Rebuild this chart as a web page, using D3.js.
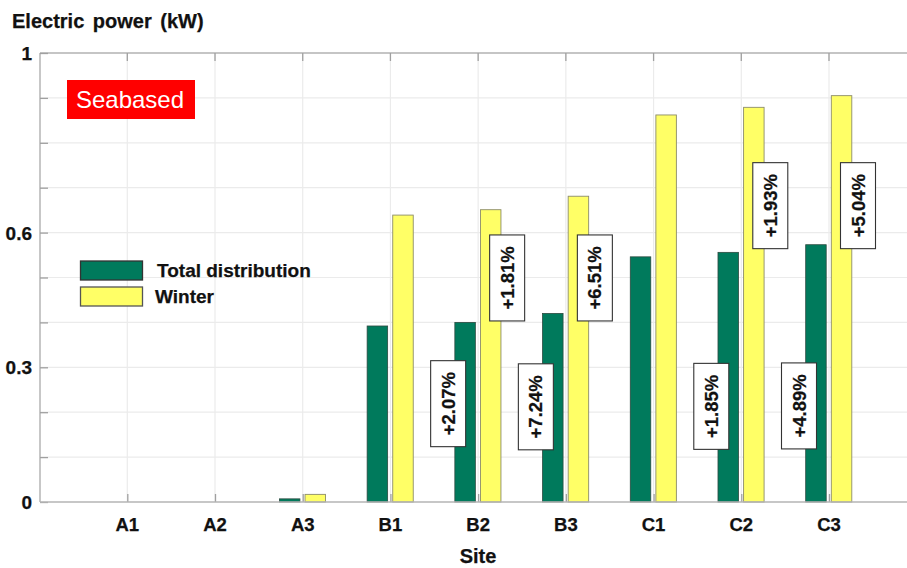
<!DOCTYPE html>
<html>
<head>
<meta charset="utf-8">
<script src="https://cdn.jsdelivr.net/npm/d3@7"></script>
<style>
  html, body { margin: 0; padding: 0; background: #fff; }
  svg { display: block; font-family: "Liberation Sans", Arial, sans-serif; }
  .bold { font-weight: bold; fill: #111; stroke: #111; stroke-width: 0.25px; }
</style>
</head>
<body>
<svg id="chart" width="907" height="568"></svg>
<script>
// ---- data ----
const categories = ["A1", "A2", "A3", "B1", "B2", "B3", "C1", "C2", "C3"];
const totalDistribution = [0, 0, 0.007, 0.392, 0.400, 0.420, 0.546, 0.556, 0.573];
const winter = [0, 0, 0.017, 0.639, 0.651, 0.681, 0.862, 0.879, 0.905];
const yTickLabels = [0, 0.3, 0.6, 1];
const yGridValues = [0, 0.1, 0.2, 0.3, 0.4, 0.5, 0.6, 0.7, 0.8, 0.9, 1];
const seriesNames = ["Total distribution", "Winter"];
const annoCategories = ["B2", "B3", "C2", "C3", "B2", "B3", "C2", "C3"];
const annoSeries = ["total", "total", "total", "total", "winter", "winter", "winter", "winter"];
const annoValues = [0.219, 0.212, 0.213, 0.214, 0.499, 0.499, 0.660, 0.660];
const annoTexts = ["+2.07%", "+7.24%", "+1.85%", "+4.89%", "+1.81%", "+6.51%", "+1.93%", "+5.04%"];

(function () {
// ---- style ----
const GREEN = "#007a5c", YELLOW = "#ffff66";
const svg = d3.select("#chart");
const pLeft = 40, pTop = 53, pBottom = 502, pRight = 907;

const x = d3.scalePoint().domain(categories).range([127.3, 829]);
const y = d3.scaleLinear().domain([0, 1]).range([pBottom, pTop]);

// grid
const grid = svg.append("g");
grid.selectAll("line.h").data(yGridValues.slice(1)).join("line")
  .attr("x1", pLeft).attr("x2", pRight)
  .attr("y1", d => y(d)).attr("y2", d => y(d))
  .attr("stroke", "#ebebeb").attr("stroke-width", 1.2);
grid.selectAll("line.v").data(categories).join("line")
  .attr("x1", d => x(d)).attr("x2", d => x(d))
  .attr("y1", pTop).attr("y2", pBottom)
  .attr("stroke", "#ebebeb").attr("stroke-width", 1.2);

// frame lines
const axisCol = "#b4b4b4";
svg.append("line").attr("x1", pLeft).attr("x2", pRight).attr("y1", pTop).attr("y2", pTop)
  .attr("stroke", axisCol).attr("stroke-width", 1.5);
svg.append("line").attr("x1", pLeft).attr("x2", pLeft).attr("y1", pTop).attr("y2", pBottom)
  .attr("stroke", axisCol).attr("stroke-width", 1.5);

// top ticks
svg.append("g").selectAll("line").data(categories).join("line")
  .attr("x1", d => x(d)).attr("x2", d => x(d))
  .attr("y1", pTop).attr("y2", pTop + 8)
  .attr("stroke", "#a0a0a0").attr("stroke-width", 1.3);

// left axis (ticks inward, no labels here)
const yAxis = d3.axisRight(y).tickValues(yGridValues).tickSize(8).tickFormat("");
const yAxG = svg.append("g").attr("transform", `translate(${pLeft},0)`).call(yAxis);
yAxG.select(".domain").remove();
yAxG.selectAll(".tick line").attr("stroke", "#a0a0a0").attr("stroke-width", 1.3);

// y labels
svg.append("g").selectAll("text").data(yTickLabels).join("text")
  .attr("class", "bold")
  .attr("x", 32).attr("y", d => y(d) + 7)
  .attr("text-anchor", "end")
  .attr("font-size", 19)
  .text(d => d3.format("~g")(d));

// bars
const barW = 20.5;
const bars = svg.append("g");
bars.selectAll("rect.total").data(categories.map((c, i) => [c, totalDistribution[i]]).filter(d => d[1] > 0))
  .join("rect")
  .attr("x", d => x(d[0]) - 23.3).attr("width", barW)
  .attr("y", d => y(d[1])).attr("height", d => y(0) - y(d[1]))
  .attr("fill", GREEN).attr("stroke", "#2c4a40").attr("stroke-width", 0.8);
bars.selectAll("rect.winter").data(categories.map((c, i) => [c, winter[i]]).filter(d => d[1] > 0))
  .join("rect")
  .attr("x", d => x(d[0]) + 2.3).attr("width", barW)
  .attr("y", d => y(d[1])).attr("height", d => y(0) - y(d[1]))
  .attr("fill", YELLOW).attr("stroke", "#8c8c6a").attr("stroke-width", 0.9);

// bottom axis
const xAxis = d3.axisTop(x).tickSize(8).tickFormat("");
const xAxG = svg.append("g").attr("transform", `translate(0,${pBottom})`).call(xAxis);
xAxG.select(".domain").remove();
xAxG.selectAll(".tick line").attr("stroke", "#a0a0a0").attr("stroke-width", 1.3);
svg.append("line").attr("x1", pLeft).attr("x2", pRight).attr("y1", pBottom).attr("y2", pBottom)
  .attr("stroke", axisCol).attr("stroke-width", 1.5);

svg.append("g").selectAll("text").data(categories).join("text")
  .attr("class", "bold")
  .attr("x", d => x(d)).attr("y", 531)
  .attr("text-anchor", "middle")
  .attr("font-size", 18.5)
  .text(d => d);

// annotations
const annoOffset = { total: -30, winter: 29 };
const ann = svg.append("g").selectAll("g").data(annoTexts.map((t, i) => ({
  t, c: annoCategories[i], s: annoSeries[i], v: annoValues[i]
}))).join("g")
  .attr("transform", d => `translate(${x(d.c) + annoOffset[d.s]},${y(d.v)})`);
ann.append("rect").attr("x", -17.5).attr("y", -43).attr("width", 35).attr("height", 86)
  .attr("fill", "#fff").attr("stroke", "#333").attr("stroke-width", 1.1);
ann.append("text").attr("class", "bold").attr("transform", "rotate(-90)")
  .attr("text-anchor", "middle").attr("y", 6.5)
  .attr("font-size", 18.5)
  .text(d => d.t);

// legend
const lg = svg.append("g");
const legendColors = [GREEN, YELLOW];
const legendStroke = ["#333", "#555"];
lg.selectAll("rect").data(seriesNames).join("rect")
  .attr("x", 80.5).attr("y", (d, i) => 261 + i * 26).attr("width", 62).attr("height", 19)
  .attr("fill", (d, i) => legendColors[i]).attr("stroke", (d, i) => legendStroke[i]).attr("stroke-width", 1.3);
lg.selectAll("text").data(seriesNames).join("text")
  .attr("class", "bold")
  .attr("x", (d, i) => i === 0 ? 157 : 155).attr("y", (d, i) => 277 + i * 26)
  .attr("font-size", 19)
  .text(d => d);

// Seabased tag
svg.append("rect").attr("x", 67).attr("y", 80).attr("width", 128).attr("height", 39).attr("fill", "#ff0000");
svg.append("text").attr("x", 130).attr("y", 108).attr("text-anchor", "middle")
  .attr("font-size", 24).attr("fill", "#fff").text("Seabased");

// titles
svg.append("text").attr("class", "bold").attr("x", 12).attr("y", 28)
  .attr("font-size", 20)
  .attr("word-spacing", 3)
  .text("Electric power (kW)");
svg.append("text").attr("class", "bold").attr("x", 478).attr("y", 563).attr("text-anchor", "middle")
  .attr("font-size", 20)
  .text("Site");
})();
</script>
</body>
</html>
